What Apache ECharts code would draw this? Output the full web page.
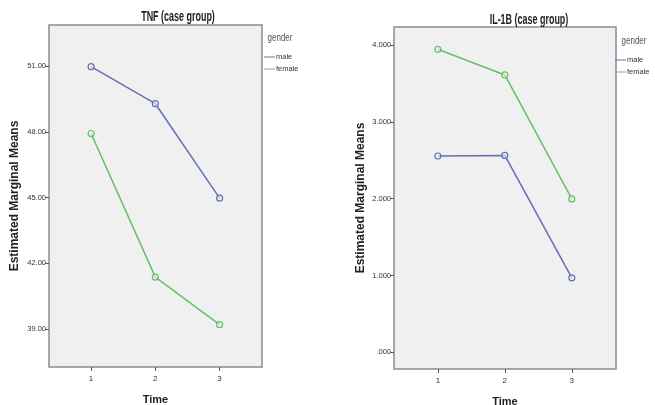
<!DOCTYPE html>
<html><head><meta charset="utf-8">
<script src="https://cdn.jsdelivr.net/npm/echarts@6/dist/echarts.min.js"></script>
<style>html,body{margin:0;padding:0;background:#fff}#c{width:655px;height:405px}</style>
</head><body><div id="c"></div>
<script>
const times = [1, 2, 3];
const tnfMale = [50.97, 49.28, 44.97];
const tnfFemale = [47.92, 41.37, 39.20];
const ilMale = [2.555, 2.563, 0.97];
const ilFemale = [3.944, 3.61, 1.996];
const tnfTicks = [39, 42, 45, 48, 51];
const ilTicks = [0, 1, 2, 3, 4];
const titles = ['TNF (case group)', 'IL-1B (case group)'];
const legendTitle = 'gender';
const seriesNames = ['male', 'female'];

const BLUE = '#6470b6', GREEN = '#66bf66';
const sans = '"Liberation Sans", Arial, sans-serif';

function pts(vals) { return times.map((t, i) => [t, vals[i]]); }

const chart = echarts.init(document.getElementById('c'));
const lineSeries = (name, data, idx, color) => ({
  name, type: 'line', xAxisIndex: idx, yAxisIndex: idx, data: pts(data),
  symbol: 'circle', symbolSize: 6,
  itemStyle: { color: 'rgba(240,240,240,0.6)', borderColor: color, borderWidth: 1.2 },
  lineStyle: { color, width: 1.5 }, animation: false
});
const xAx = (idx) => ({
  type: 'value', gridIndex: idx, min: 0.345, max: 3.66,
  name: 'Time', nameLocation: 'middle', nameGap: 27,
  nameTextStyle: { fontFamily: sans, fontWeight: 'bold', fontSize: 11, color: '#222' },
  axisLine: { show: false, onZero: false }, splitLine: { show: false },
  axisTick: { show: true, customValues: times, length: 4, lineStyle: { color: '#555' } },
  axisLabel: { customValues: times, fontFamily: sans, fontSize: 8, color: '#333', margin: 8 }
});
const yAx = (idx, min, max, ticks, fmt, gap) => ({
  type: 'value', gridIndex: idx, min, max,
  name: 'Estimated Marginal Means', nameLocation: 'middle', nameGap: gap,
  nameTextStyle: { fontFamily: sans, fontWeight: 'bold', fontSize: 12, color: '#222' },
  axisLine: { show: false, onZero: false }, splitLine: { show: false },
  axisTick: { show: true, customValues: ticks, length: 4, lineStyle: { color: '#555' } },
  axisLabel: { customValues: ticks, formatter: fmt, fontFamily: sans, fontSize: 7.5, color: '#333', margin: 3 }
});
const legendData = [
  { name: seriesNames[0], itemStyle: { color: BLUE, borderWidth: 0 } },
  { name: seriesNames[1], itemStyle: { color: GREEN, borderWidth: 0 } }
];
const legend = (left, top) => ({
  left, top, orient: 'vertical', itemGap: 4, itemWidth: 11, itemHeight: 1,
  icon: 'rect', data: legendData, selectedMode: false,
  itemStyle: { borderWidth: 0 },
  textStyle: { fontFamily: sans, fontSize: 7.5, color: '#333', padding: [0, 0, 0, -4] }
});
const gtext = (x, y, text, size, weight, sx, color) => ({
  type: 'text', x, y, scaleX: sx, silent: true,
  style: { text, fontFamily: sans, fontSize: size, fontWeight: weight, fill: color,
           textAlign: 'center', textVerticalAlign: 'middle' }
});

chart.setOption({
  animation: false,
  graphic: [
    gtext(178, 17, titles[0], 14, 'bold', 0.64, '#222'),
    gtext(529, 20, titles[1], 14, 'bold', 0.64, '#222'),
    gtext(280, 38, legendTitle, 10, 'normal', 0.8, '#555'),
    gtext(634, 41, legendTitle, 10, 'normal', 0.8, '#555')
  ],
  legend: [legend(259, 48), legend(610, 51)],
  grid: [
    { left: 49, top: 25, width: 213, height: 342, show: true, backgroundColor: '#f0f0f0', borderColor: '#8c8c8c', borderWidth: 1.5, outerBoundsMode: 'none', containLabel: false },
    { left: 394, top: 27, width: 222, height: 342, show: true, backgroundColor: '#f0f0f0', borderColor: '#8c8c8c', borderWidth: 1.5, outerBoundsMode: 'none', containLabel: false }
  ],
  xAxis: [xAx(0), xAx(1)],
  yAxis: [
    yAx(0, 37.27, 52.87, tnfTicks, v => v.toFixed(2), 28),
    yAx(1, -0.217, 4.234, ilTicks, v => v.toFixed(3).replace(/^0\./, '.'), 27)
  ],
  series: [
    lineSeries(seriesNames[0], tnfMale, 0, BLUE),
    lineSeries(seriesNames[1], tnfFemale, 0, GREEN),
    lineSeries(seriesNames[0], ilMale, 1, BLUE),
    lineSeries(seriesNames[1], ilFemale, 1, GREEN)
  ]
});
</script></body></html>
